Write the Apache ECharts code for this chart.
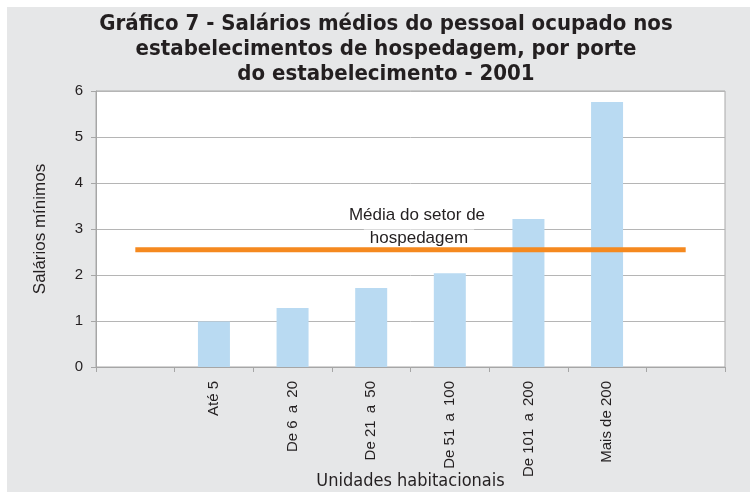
<!DOCTYPE html>
<html>
<head>
<meta charset="utf-8">
<script src="https://cdn.jsdelivr.net/npm/echarts@6/dist/echarts.min.js"></script>
<style>
  html, body { margin: 0; padding: 0; background: #e6e7e8; }
  #wrap { position: relative; width: 750px; height: 492px; background: #e6e7e8; overflow: hidden;
          box-sizing: border-box; border-top: 7px solid #fff; border-left: 7px solid #fff; }
  #chart { position: absolute; left: 0; top: 0; width: 743px; height: 485px; }
</style>
</head>
<body>
<div id="wrap"><div id="chart"></div></div>
<script>
// categorias (com posições vazias nas pontas, como no original)
var categorias = ['', 'Até 5', 'De 6 \u2009a \u200920', 'De 21 \u2009a \u200950', 'De 51 \u2009a \u2009100', 'De 101 \u2009a \u2009200', 'Mais de 200', ''];
var salarios = [null, 0.99, 1.28, 1.72, 2.04, 3.22, 5.76, null];
var mediaSetor = [2.55, 2.55, 2.55, 2.55, 2.55, 2.55, 2.55, 2.55];
var yTicks = [0, 1, 2, 3, 4, 5, 6];

var chart = echarts.init(document.getElementById('chart'));

var option = {
    backgroundColor: '#e6e7e8',
    animation: false,
    title: {
        text: 'Gráfico 7 - Salários médios do pessoal ocupado nos\nestabelecimentos de hospedagem, por porte\ndo estabelecimento - 2001',
        left: 374,
        top: 0,
        textAlign: 'center',
        textStyle: {
            fontFamily: '"Liberation Sans Narrow", "DejaVu Sans Condensed", Arial, sans-serif',
            fontWeight: 'bold',
            fontSize: 22,
            lineHeight: 25,
            color: '#231f20'
        }
    },
    grid: {
        left: 89,
        top: 84,
        right: 25,
        bottom: 125,
        outerBoundsMode: 'none',
        containLabel: false,
        show: true,
        backgroundColor: '#fff',
        borderColor: '#a9a9a9',
        borderWidth: 1
    },
    xAxis: {
        type: 'category',
        data: categorias,
        boundaryGap: true,
        name: 'Unidades habitacionais',
        nameLocation: 'middle',
        nameGap: 105,
        nameMoveOverlap: false,
        nameTextStyle: {
            fontFamily: '"Liberation Sans Narrow", "DejaVu Sans Condensed", Arial, sans-serif',
            fontSize: 18,
            color: '#231f20'
        },
        axisLine: { lineStyle: { color: '#a6a6a6', width: 1 } },
        axisTick: { show: true, length: 5, alignWithLabel: false, lineStyle: { color: '#a6a6a6' } },
        axisLabel: {
            rotate: 90,
            margin: 14,
            interval: 0,
            fontFamily: '"Liberation Sans", Arial, sans-serif',
            fontSize: 15,
            color: '#231f20'
        },
        splitLine: { show: false }
    },
    yAxis: {
        type: 'value',
        min: yTicks[0],
        max: yTicks[yTicks.length - 1],
        interval: 1,
        name: 'Salários mínimos',
        nameLocation: 'middle',
        nameGap: 47,
        nameMoveOverlap: false,
        nameTextStyle: {
            fontFamily: '"Liberation Sans", Arial, sans-serif',
            fontSize: 17,
            color: '#231f20'
        },
        axisLine: { show: true, lineStyle: { color: '#a6a6a6', width: 1 } },
        axisTick: { show: true, length: 5, lineStyle: { color: '#a6a6a6' } },
        axisLabel: {
            margin: 13,
            fontFamily: '"Liberation Sans", Arial, sans-serif',
            fontSize: 15,
            color: '#231f20'
        },
        splitLine: { show: true, lineStyle: { color: '#b5b5b5', width: 1 } }
    },
    graphic: [
        {
            type: 'text',
            z: 3,
            style: {
                x: 410,
                y: 208,
                align: 'center',
                verticalAlign: 'middle',
                text: 'Média do setor de',
                fontFamily: '"Liberation Sans", Arial, sans-serif',
                fontSize: 17,
                fill: '#231f20'
            }
        },
        {
            type: 'text',
            z: 3,
            style: {
                x: 412,
                y: 231,
                align: 'center',
                verticalAlign: 'middle',
                text: 'hospedagem',
                fontFamily: '"Liberation Sans", Arial, sans-serif',
                fontSize: 17,
                fill: '#231f20',
                backgroundColor: '#fff',
                padding: [0, 6, 0, 6]
            }
        }
    ],
    series: [
        {
            name: 'Salários médios',
            type: 'bar',
            data: salarios,
            barWidth: 32,
            itemStyle: { color: '#b9daf2' }
        },
        {
            name: 'Média do setor de hospedagem',
            type: 'line',
            data: mediaSetor,
            symbol: 'none',
            lineStyle: { color: '#f5891f', width: 5 },
            z: 5
        }
    ]
};

chart.setOption(option);
</script>
</body>
</html>
